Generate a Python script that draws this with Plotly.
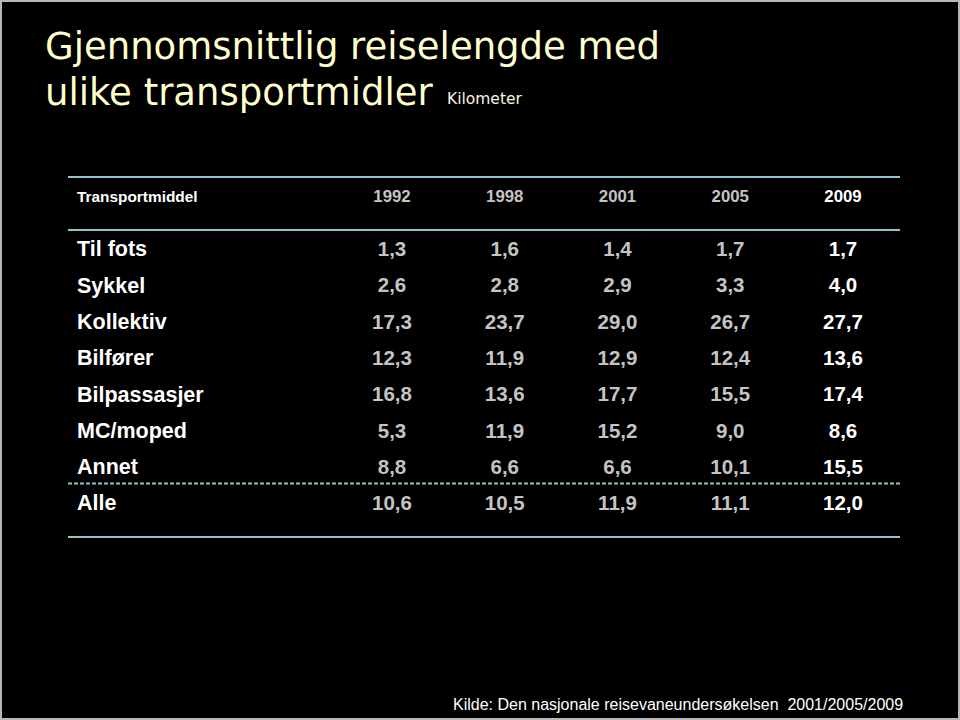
import plotly.graph_objects as go

# ---- data ----
title_line1 = "Gjennomsnittlig reiselengde med"
title_line2 = "ulike transportmidler"
unit_label = "Kilometer"
header_label = "Transportmiddel"
source_text = "Kilde: Den nasjonale reisevaneundersøkelsen  2001/2005/2009"

categories = ["Til fots", "Sykkel", "Kollektiv", "Bilfører", "Bilpassasjer",
              "MC/moped", "Annet", "Alle"]
years = ["1992", "1998", "2001", "2005", "2009"]
v1992 = [1.3, 2.6, 17.3, 12.3, 16.8, 5.3, 8.8, 10.6]
v1998 = [1.6, 2.8, 23.7, 11.9, 13.6, 11.9, 6.6, 10.5]
v2001 = [1.4, 2.9, 29.0, 12.9, 17.7, 15.2, 6.6, 11.9]
v2005 = [1.7, 3.3, 26.7, 12.4, 15.5, 9.0, 10.1, 11.1]
v2009 = [1.7, 4.0, 27.7, 13.6, 17.4, 8.6, 15.5, 12.0]
series = [v1992, v1998, v2001, v2005, v2009]

# ---- styling ----
W, H = 960, 720
BG = "#000000"
GRAY = "#C4C4C4"
WHITE = "#FFFFFF"
CREAM = "#FFFFCC"
RULE = "#8CC6CC"
FONT = "Liberation Sans, Arial, sans-serif"
TFONT = "DejaVu Sans, Verdana, sans-serif"

# column/row layout (pixel geometry mapped onto axis units)
col0_px, col_step_px = 392.0, 112.75
row0_px, row_step_px = 251.0, 36.3
label_px = 77.0
rule_x0_px, rule_x1_px = 68.0, 900.0

x_range = [(0 - col0_px) / col_step_px, (W - col0_px) / col_step_px]
y_range = [(H - row0_px) / row_step_px, (0 - row0_px) / row_step_px]


def xu(px):
    return (px - col0_px) / col_step_px


def yu(px):
    return (px - row0_px) / row_step_px


def fmt(v):
    return f"{v:.1f}".replace(".", ",")


n = len(categories)
rows = list(range(n))
header_row = yu(198)

fig = go.Figure()

# row labels
fig.add_trace(go.Scatter(
    x=[xu(label_px)] * n, y=rows, mode="text", text=categories,
    textposition="middle right",
    textfont=dict(family=FONT, size=21.5, color=WHITE, weight="bold"),
    hoverinfo="skip", showlegend=False))

# header label
fig.add_trace(go.Scatter(
    x=[xu(label_px)], y=[header_row], mode="text", text=[header_label],
    textposition="middle right",
    textfont=dict(family=FONT, size=15.4, color=WHITE, weight="bold"),
    hoverinfo="skip", showlegend=False))

# year columns
for i, (yr, vals) in enumerate(zip(years, series)):
    col = WHITE if i == len(years) - 1 else GRAY
    fig.add_trace(go.Scatter(
        x=[i], y=[header_row], mode="text", text=[yr],
        textposition="middle center",
        textfont=dict(family=FONT, size=16.8, color=col, weight="bold"),
        hoverinfo="skip", showlegend=False))
    fig.add_trace(go.Scatter(
        x=[i] * n, y=rows, mode="text", text=[fmt(v) for v in vals],
        textposition="middle center",
        textfont=dict(family=FONT, size=20.5, color=col, weight="bold"),
        hoverinfo="skip", showlegend=False))

# table rules
rules = [(177, "solid"), (230, "solid"), (483.5, "4px,2px"), (537, "solid")]
for ypx, dash in rules:
    fig.add_shape(type="line", xref="x", yref="y",
                  x0=xu(rule_x0_px), x1=xu(rule_x1_px), y0=yu(ypx), y1=yu(ypx),
                  line=dict(color=RULE, width=2, dash=dash))

# outer border
fig.add_shape(type="rect", xref="paper", yref="paper", x0=0, x1=1, y0=0, y1=1,
              line=dict(color="#B8B8B8", width=4), fillcolor="rgba(0,0,0,0)",
              layer="above")

# titles
fig.add_annotation(xref="paper", yref="paper", x=43 / W, y=1 - 47 / H,
                   xanchor="left", yanchor="middle", showarrow=False,
                   text=title_line1,
                   font=dict(family=TFONT, size=37, color=CREAM))
fig.add_annotation(xref="paper", yref="paper", x=43 / W, y=1 - 92 / H,
                   xanchor="left", yanchor="middle", showarrow=False,
                   text=title_line2,
                   font=dict(family=TFONT, size=37, color=CREAM))
fig.add_annotation(xref="paper", yref="paper", x=445 / W, y=1 - 99 / H,
                   xanchor="left", yanchor="middle", showarrow=False,
                   text=unit_label,
                   font=dict(family=TFONT, size=15.5, color="#F4F4E4"))
fig.add_annotation(xref="paper", yref="paper", x=905 / W, y=1 - 704 / H,
                   xanchor="right", yanchor="middle", showarrow=False,
                   text=source_text,
                   font=dict(family=FONT, size=16, color=WHITE))

fig.update_layout(
    width=W, height=H,
    margin=dict(l=0, r=0, t=0, b=0),
    paper_bgcolor=BG, plot_bgcolor=BG,
    xaxis=dict(range=x_range, visible=False, fixedrange=True),
    yaxis=dict(range=y_range, visible=False, fixedrange=True),
    showlegend=False,
)

fig.write_html(
    "out.html",
    config={"displayModeBar": False},
    post_script="document.body.style.margin='0';document.body.style.padding='0';"
                "document.body.style.overflow='hidden';document.body.style.background='#000';",
)
